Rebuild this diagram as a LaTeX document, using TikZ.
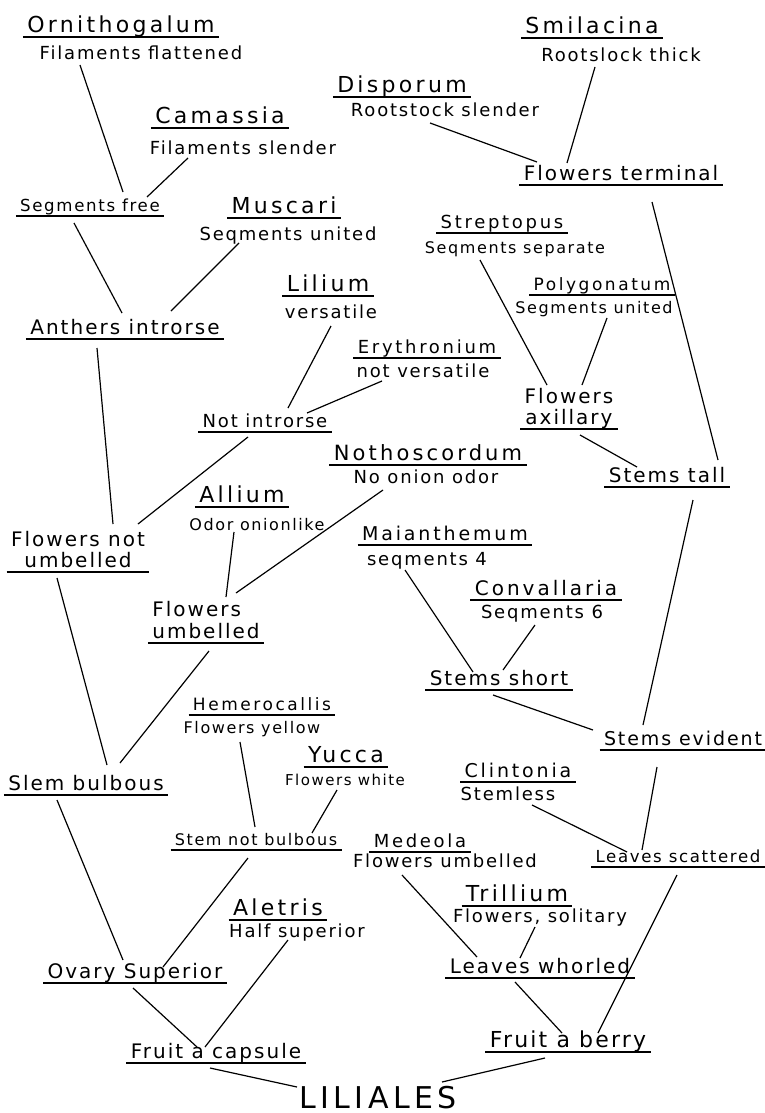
\documentclass[tikz,border=0pt]{standalone}
\usepackage{fontspec}
\usepackage{tikz}
\usetikzlibrary{calc}
\newfontfamily\handfont[LetterSpace=10]{DejaVu Sans}
\newfontfamily\titlefont[LetterSpace=15]{DejaVu Sans}

\begin{document}
\begin{tikzpicture}[x=0.5pt,y=-0.5pt,
  link/.style={line width=0.6pt},
  ul/.style={append after command={(\tikzlastnode.south west) edge[link] (\tikzlastnode.south east)}},
  genus/.style={ul,anchor=south,inner xsep=2pt,inner ysep=1pt,text depth=1pt,
                font=\titlefont\fontsize{#1}{#1}\selectfont},
  genus/.default=11,
  trait/.style={anchor=base,inner sep=1pt,font=\handfont\fontsize{#1}{#1}\selectfont},
  trait/.default=9,
  key/.style={ul,anchor=south,align=center,inner xsep=2pt,inner ysep=1pt,text depth=1pt,
              font=\handfont\fontsize{#1}{#1}\selectfont},
  key/.default=10,
]
\useasboundingbox (0,0) rectangle (765,1113);

% Capsule side --- anthers
\node[genus] (orn) at (121,37) {Ornithogalum};
\node[trait] (ornd) at (141,60) {Filaments flattened};
\node[genus] (cam) at (220,128) {Camassia};
\node[trait] (camd) at (243,155) {Filaments slender};
\node[key=8.3] (segf) at (90,216) {Segments free};
\node[genus] (mus) at (284,218) {Muscari};
\node[trait] (musd) at (288,240) {Seqments united};
\node[key] (anth) at (125,339) {Anthers introrse};
\node[genus] (lil) at (328,296) {Lilium};
\node[trait] (lild) at (331,318) {versatile};
\node[genus=9] (ery) at (427,358) {Erythronium};
\node[trait] (eryd) at (423,377) {not versatile};
\node[key=9] (notin) at (265,432) {Not introrse};
\node[key] (fnu) at (78,572) {Flowers not\\[0.5pt]umbelled};

% Capsule side --- umbels and stems
\node[genus=10.5] (noth) at (428,465) {Nothoscordum};
\node[trait] (nothd) at (426,483) {No onion odor};
\node[genus] (all) at (242,507) {Allium};
\node[trait=8] (alld) at (257,530) {Odor onionlike};
\node[key,align=left] (fu) at (206,643) {Flowers\\[1pt]umbelled};
\node[key] (sb) at (86,795) {Slem bulbous};
\node[genus=8.5] (hem) at (262,715) {Hemerocallis};
\node[trait=8] (hemd) at (252,733) {Flowers yellow};
\node[genus] (yuc) at (346,767) {Yucca};
\node[trait=7.5] (yucd) at (345,785) {Flowers white};
\node[key=8] (snb) at (256,850) {Stem not bulbous};
\node[genus] (ale) at (278,920) {Aletris};
\node[trait] (aled) at (297,937) {Half superior};
\node[key] (ovs) at (135,983) {Ovary Superior};
\node[key] (fcap) at (216,1063) {Fruit a capsule};

% Berry side --- tall stems
\node[genus] (smi) at (592,38) {Smilacina};
\node[trait] (smid) at (621,62) {Rootslock thick};
\node[genus] (dis) at (402,97) {Disporum};
\node[trait] (disd) at (445,117) {Rootstock slender};
\node[key] (fter) at (621,185) {Flowers terminal};
\node[genus=9] (str) at (502,233) {Streptopus};
\node[trait=8] (strd) at (515,253) {Seqments separate};
\node[genus=8.5] (pol) at (602,295) {Polygonatum};
\node[trait=8] (pold) at (594,313) {Segments united};
\node[key] (fax) at (569,429) {Flowers\\[0.5pt]axillary};
\node[key] (stl) at (667,487) {Stems tall};

% Berry side --- short stems and leaves
\node[genus=9.5] (mai) at (445,545) {Maianthemum};
\node[trait] (maid) at (427,565) {seqments 4};
\node[genus=10] (con) at (546,600) {Convallaria};
\node[trait] (cond) at (542,618) {Seqments 6};
\node[key] (sst) at (499,690) {Stems short};
\node[key=9.5] (sev) at (683,750) {Stems evident};
\node[genus=9.5] (cli) at (518,782) {Clintonia};
\node[trait] (clid) at (508,800) {Stemless};
\node[key=8.3] (lsc) at (678,867) {Leaves scattered};
\node[genus=9] (med) at (420,852) {Medeola};
\node[trait] (medd) at (445,867) {Flowers umbelled};
\node[genus] (tri) at (517,906) {Trillium};
\node[trait] (trid) at (540,922) {Flowers, solitary};
\node[key] (lw) at (540,978) {Leaves whorled};
\node[key=11] (fber) at (568,1052) {Fruit a berry};

% Root
\node[anchor=base,inner sep=1pt,font=\titlefont\fontsize{15}{15}\selectfont] (liliales) at (378,1108) {LILIALES};

% Links, capsule side
\draw[link] ($(ornd.base)+(-61,5)$) -- ($(segf.south)+(33,-24)$);
\draw[link] ($(camd.base)+(-55,3)$) -- ($(segf.south)+(57,-19)$);
\draw[link] ($(segf.south)+(-16,7)$) -- ($(anth.south)+(-3,-26)$);
\draw[link] ($(musd.base)+(-49,3)$) -- ($(anth.south)+(46,-28)$);
\draw[link] ($(lild.base)+(0,8)$) -- ($(notin.south)+(23,-24)$);
\draw[link] ($(eryd.base)+(-41,4)$) -- ($(notin.south)+(42,-19)$);
\draw[link] ($(anth.south)+(-28,9)$) -- ($(fnu.south)+(35,-48)$);
\draw[link] ($(notin.south)+(-17,5)$) -- ($(fnu.south)+(60,-48)$);
\draw[link] ($(nothd.base)+(-43,7)$) -- ($(fu.south)+(30,-50)$);
\draw[link] ($(alld.base)+(-23,2)$) -- ($(fu.south)+(20,-46)$);
\draw[link] ($(fnu.south)+(-21,6)$) -- ($(sb.south)+(21,-30)$);
\draw[link] ($(fu.south)+(3,8)$) -- ($(sb.south)+(34,-32)$);
\draw[link] ($(hemd.base)+(-12,9)$) -- ($(snb.south)+(-1,-23)$);
\draw[link] ($(yucd.base)+(-8,5)$) -- ($(snb.south)+(56,-17)$);
\draw[link] ($(sb.south)+(-29,5)$) -- ($(ovs.south)+(-12,-23)$);
\draw[link] ($(snb.south)+(-8,8)$) -- ($(ovs.south)+(28,-16)$);
\draw[link] ($(aled.base)+(-9,3)$) -- ($(fcap.south)+(-11,-16)$);
\draw[link] ($(ovs.south)+(-2,5)$) -- ($(fcap.south)+(-19,-16)$);
\draw[link] ($(fcap.south)+(-6,5)$) -- ($(liliales.base)+(-81,-21)$);

% Links, berry side
\draw[link] ($(smid.base)+(-26,5)$) -- ($(fter.south)+(-54,-22)$);
\draw[link] ($(disd.base)+(-15,6)$) -- ($(fter.south)+(-84,-23)$);
\draw[link] ($(strd.base)+(-35,7)$) -- ($(fax.south)+(-22,-44)$);
\draw[link] ($(pold.base)+(13,5)$) -- ($(fax.south)+(13,-44)$);
\draw[link] ($(fter.south)+(31,17)$) -- ($(stl.south)+(51,-27)$);
\draw[link] ($(fax.south)+(11,6)$) -- ($(stl.south)+(-30,-20)$);
\draw[link] ($(maid.base)+(-22,5)$) -- ($(sst.south)+(-26,-18)$);
\draw[link] ($(cond.base)+(-7,7)$) -- ($(sst.south)+(4,-20)$);
\draw[link] ($(stl.south)+(26,13)$) -- ($(sev.south)+(-40,-25)$);
\draw[link] ($(sst.south)+(-6,5)$) -- ($(sev.south)+(-90,-20)$);
\draw[link] ($(clid.base)+(24,5)$) -- ($(lsc.south)+(-51,-15)$);
\draw[link] ($(sev.south)+(-26,17)$) -- ($(lsc.south)+(-36,-17)$);
\draw[link] ($(medd.base)+(-43,8)$) -- ($(lw.south)+(-63,-21)$);
\draw[link] ($(trid.base)+(-5,5)$) -- ($(lw.south)+(-20,-20)$);
\draw[link] ($(lw.south)+(-25,4)$) -- ($(fber.south)+(-6,-19)$);
\draw[link] ($(lsc.south)+(-1,8)$) -- ($(fber.south)+(30,-19)$);
\draw[link] ($(fber.south)+(-23,6)$) -- ($(liliales.base)+(64,-26)$);
\end{tikzpicture}
\end{document}
